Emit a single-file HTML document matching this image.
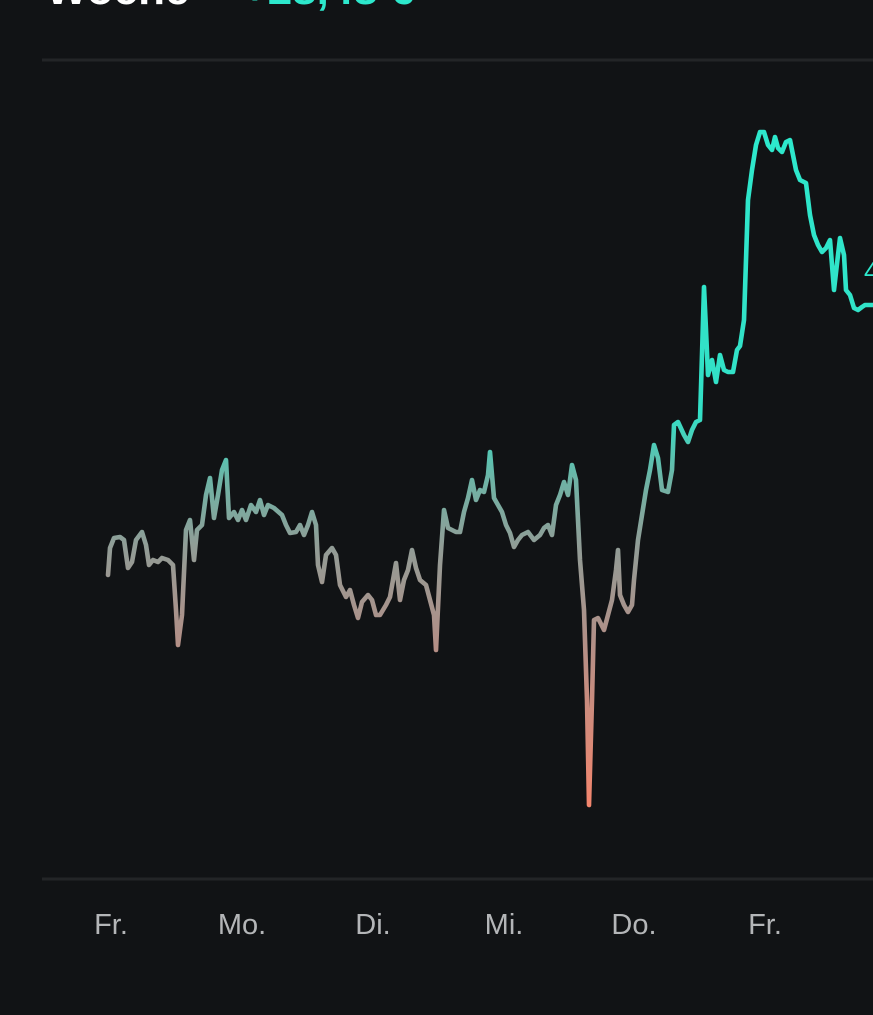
<!DOCTYPE html>
<html><head><meta charset="utf-8"><style>
html,body{margin:0;padding:0;background:#111315;width:873px;height:1015px;overflow:hidden}
svg{display:block}
</style></head><body>
<svg width="873" height="1015" viewBox="0 0 873 1015" xmlns="http://www.w3.org/2000/svg">
<rect width="873" height="1015" fill="#111315"/>
<text x="46" y="4" font-family="Liberation Sans, sans-serif" font-size="44" font-weight="bold" fill="#ffffff">Woche</text>
<text x="242" y="4" font-family="Liberation Sans, sans-serif" font-size="44" font-weight="bold" fill="#2de8cc">+28,48 €</text>
<line x1="42" y1="60" x2="873" y2="60" stroke="#232527" stroke-width="3"/>
<line x1="42" y1="879" x2="873" y2="879" stroke="#232527" stroke-width="3"/>
<defs>
<linearGradient id="g" gradientUnits="userSpaceOnUse" x1="0" y1="130" x2="0" y2="805">
<stop offset="0" stop-color="#2de8cc"/>
<stop offset="0.42" stop-color="#33e0c6"/>
<stop offset="0.52" stop-color="#6fb3a5"/>
<stop offset="0.62" stop-color="#929c96"/>
<stop offset="0.75" stop-color="#b09088"/>
<stop offset="1" stop-color="#f3866e"/>
</linearGradient>
</defs>
<polyline fill="none" stroke="url(#g)" stroke-width="4.6" stroke-linejoin="round" stroke-linecap="round" points="108,575 110,548 114,538 120,537 124,540 128,568 132,562 136,540 142,532 146,545 149,565 153,560 158,562 162,558 168,560 173,565 176,610 178,645 182,615 186,530 190,520 194,560 197,530 202,525 206,495 210,478 214,518 218,495 222,470 226,460 229,518 234,512 238,520 242,510 246,520 251,505 256,512 260,500 264,515 268,505 274,508 282,515 286,525 290,533 296,532 300,525 304,535 308,525 312,512 316,525 318,565 322,582 326,555 332,548 336,555 340,585 346,597 350,590 354,605 358,618 362,602 368,595 372,600 376,615 380,615 386,605 390,597 396,563 400,600 404,580 408,570 412,550 416,568 420,580 426,585 430,600 434,615 436,650 440,565 444,510 448,528 452,530 456,532 460,532 464,512 468,498 472,480 476,500 480,490 484,492 488,475 490,452 494,498 498,505 502,512 506,525 510,533 514,547 518,540 522,535 528,532 534,540 540,535 544,528 548,525 552,535 556,505 560,495 564,482 568,495 572,465 576,480 580,560 584,610 587,700 589,805 592,700 594,620 598,618 604,630 608,615 612,600 616,570 618,550 620,595 624,605 628,612 632,605 634,580 638,540 642,515 646,490 650,470 654,445 658,458 662,490 668,492 672,470 674,425 678,422 684,435 688,442 692,430 696,422 700,420 702,355 704,287 706,330 708,375 712,360 716,382 720,355 724,370 728,372 733,372 737,350 740,346 744,320 748,200 752,170 756,145 760,132 764,132 768,145 772,150 775,137 778,148 782,152 786,142 790,140 792,150 796,170 800,180 806,183 810,215 814,235 818,245 822,252 826,248 830,240 834,290 838,255 840,238 844,255 846,290 850,295 854,308 858,310 862,307 865,305 873,305"/>
<text x="864" y="280" font-family="Liberation Sans, sans-serif" font-size="26" fill="#2de8cc">4</text>
<g font-family="Liberation Sans, sans-serif" font-size="29" fill="#b4b6b8" text-anchor="middle">
<text x="111" y="934">Fr.</text>
<text x="242" y="934">Mo.</text>
<text x="373" y="934">Di.</text>
<text x="504" y="934">Mi.</text>
<text x="634" y="934">Do.</text>
<text x="765" y="934">Fr.</text>
</g>
</svg>
</body></html>
